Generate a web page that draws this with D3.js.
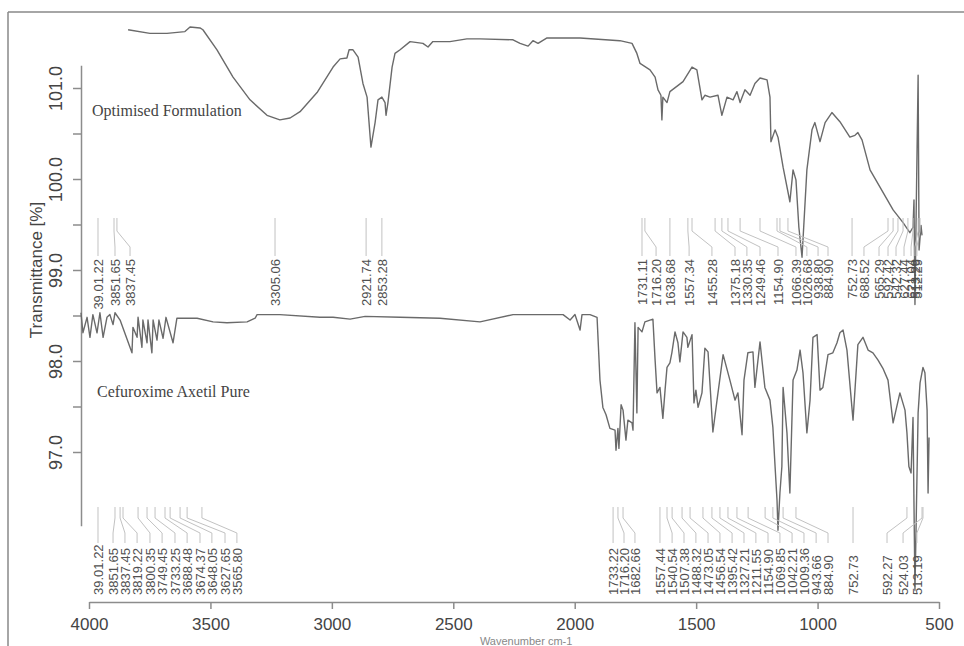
<!DOCTYPE html>
<html>
<head>
<script src="https://d3js.org/d3.v7.min.js"></script>
<style>
  body { margin: 0; background: #fff; font-family: "Liberation Sans", Arial, sans-serif; }
  .spec { fill: none; stroke: #6a6a6a; stroke-width: 1.4px; stroke-linejoin: round; }
  .lead { fill: none; stroke: #c2c2c2; stroke-width: 1px; }
  .peak { font-size: 13px; fill: #505050; }
  .axis text { font-size: 17px; fill: #444; font-family: "Liberation Sans", Arial, sans-serif; }
  .axis .domain, .axis .tick line { stroke: #8c8c8c; stroke-width: 1.5px; }
  .name { font-family: "Liberation Serif", "Times New Roman", serif; font-size: 16px; fill: #444; }
  .frame { stroke: #888; stroke-width: 1.5px; }
</style>
</head>
<body>
<svg width="964" height="646"></svg>
<script>
// Optimised Formulation spectrum
const formWn = [3839,3749,3679,3605,3584,3543,3531,3473,3407,3337,3267,3214,3172,3131,3061,2995,2966,2938,2929,2913,2892,2872,2855,2839,2822,2810,2794,2781,2777,2769,2752,2740,2719,2678,2625,2604,2584,2514,2444,2390,2254,2225,2192,2172,2151,2114,1978,1814,1764,1744,1731,1690,1669,1657,1645,1641,1637,1620,1608,1554,1517,1497,1476,1464,1443,1410,1394,1373,1348,1332,1319,1299,1278,1258,1237,1208,1196,1192,1175,1163,1142,1114,1101,1089,1077,1064,1044,1023,1011,990,969,941,908,867,846,834,817,784,743,689,648,620,607,603,599,595,586,582,574,570];
const formT = [101.64,101.60,101.60,101.62,101.67,101.66,101.64,101.42,101.12,100.87,100.70,100.65,100.67,100.74,100.95,101.23,101.32,101.33,101.42,101.42,101.34,101.05,100.90,100.35,100.62,100.87,100.90,100.84,100.70,100.84,101.23,101.38,101.42,101.51,101.49,101.45,101.51,101.51,101.54,101.54,101.53,101.49,101.46,101.52,101.49,101.55,101.55,101.52,101.49,101.38,101.27,101.20,101.12,100.98,100.92,100.65,100.90,100.84,100.96,101.07,101.23,101.20,100.87,100.92,100.90,100.92,100.70,100.90,100.87,100.96,100.84,100.98,100.92,101.05,101.11,101.09,100.90,100.41,100.54,100.46,100.13,99.75,100.10,99.99,99.47,99.14,100.10,100.54,100.62,100.41,100.62,100.73,100.63,100.46,100.48,100.51,100.43,100.10,99.91,99.66,99.52,99.41,99.47,99.77,98.62,99.44,101.14,99.22,99.49,99.38];

// Cefuroxime Axetil Pure spectrum
const pureWn = [4033,4025,4008,3996,3984,3967,3955,3942,3926,3914,3901,3893,3872,3823,3819,3802,3798,3782,3778,3761,3757,3741,3736,3720,3712,3695,3683,3654,3638,3555,3489,3432,3349,3316,3308,3214,3049,2995,2925,2863,2719,2555,2390,2254,2048,2019,1999,1978,1970,1937,1908,1896,1884,1871,1855,1834,1830,1822,1818,1809,1801,1789,1781,1764,1760,1752,1744,1739,1723,1711,1678,1669,1661,1649,1637,1628,1620,1608,1600,1587,1575,1567,1554,1538,1534,1517,1509,1501,1492,1476,1464,1451,1431,1414,1389,1361,1340,1328,1311,1303,1287,1266,1258,1237,1217,1196,1184,1175,1167,1163,1155,1147,1142,1126,1114,1101,1085,1072,1060,1044,1031,1019,1002,990,978,957,937,920,908,895,879,854,834,813,792,772,751,731,710,689,661,640,632,624,615,607,599,586,578,566,558,549,545,541];
const pureT = [98.53,98.31,98.48,98.26,98.51,98.31,98.53,98.26,98.48,98.51,98.40,98.53,98.45,98.09,98.37,98.26,98.48,98.15,98.45,98.20,98.45,98.09,98.45,98.23,98.45,98.25,98.48,98.20,98.47,98.47,98.43,98.42,98.43,98.47,98.51,98.51,98.48,98.48,98.46,98.49,98.48,98.47,98.43,98.51,98.51,98.45,98.51,98.34,98.51,98.51,98.48,97.79,97.49,97.41,97.26,97.24,97.02,97.26,97.04,97.52,97.46,97.13,97.35,97.32,97.24,98.42,97.43,98.37,98.32,98.43,98.46,98.01,97.65,97.71,97.37,97.68,97.93,97.98,98.09,98.32,98.20,97.99,98.32,98.26,98.15,98.29,97.54,97.68,97.49,97.65,98.14,98.10,97.22,97.57,98.07,97.79,97.57,97.65,97.19,97.79,98.09,98.10,97.71,98.21,97.71,97.57,97.27,96.84,96.47,96.14,96.55,96.84,97.71,97.21,96.55,97.79,97.90,98.12,97.87,97.21,97.57,98.26,98.29,97.68,97.71,98.07,98.09,98.20,98.31,98.34,98.12,97.35,98.18,98.26,98.12,98.09,98.01,97.92,97.79,97.32,97.65,97.46,97.21,96.84,96.77,97.38,95.48,97.43,97.76,97.93,97.87,97.46,96.55,97.16];

// peak annotations: label, wavenumber where leader starts, wavenumber slot of label
const formPeakText = ["39.01.22","3851.65","3837.45","3305.06","2921.74","2853.28","1731.11","1716.20","1638.68","1557.34","1455.28","1375.18","1330.35","1249.46","1154.90","1066.39","1026.68","938.80","884.90","752.73","688.52","565.29","592.42","542.32","627.44","621.04","513.29","512.29"];
const formPeakAt = [3963,3897,3885,3234,2859,2794,1723,1711,1608,1534,1517,1422,1394,1369,1319,1237,1167,1155,1122,858,710,689,669,648,628,607,586,578];
const formPeakSlot = [3963,3893,3831,3234,2859,2794,1723,1665,1608,1529,1435,1340,1291,1237,1163,1089,1044,998,957,858,809,747,710,677,644,615,599,591];

const purePeakText = ["39.01.22","3851.65","3837.45","3819.22","3800.35","3749.45","3733.25","3688.48","3674.37","3648.05","3627.65","3565.80","1733.22","1716.20","1682.66","1557.44","1540.54","1507.38","1488.32","1473.05","1456.54","1395.42","1327.21","1211.55","1154.90","1069.85","1042.21","1009.36","943.66","884.90","752.73","592.27","524.03","513.19"];
const purePeakAt = [3963,3893,3872,3860,3798,3761,3728,3687,3666,3625,3596,3535,1842,1822,1801,1649,1620,1599,1558,1525,1472,1435,1402,1369,1332,1286,1216,1184,1142,1089,854,632,570,566];
const purePeakSlot = [3963,3901,3852,3802,3749,3699,3646,3596,3543,3494,3440,3391,1842,1797,1752,1649,1599,1550,1501,1451,1402,1352,1303,1254,1204,1155,1105,1056,1006,957,854,714,648,591];

const xTicks = [4000, 3500, 3000, 2500, 2000, 1500, 1000, 500];
const yTicks = [97, 97.5, 98, 98.5, 99, 99.5, 100, 100.5, 101];

const svg = d3.select("svg");

const x = d3.scaleLinear().domain([4000, 500]).range([89, 939]);
const y = d3.scaleLinear().domain([101, 97]).range([88, 452]);
const yAxisScale = y.copy().domain([101.25, 96.19]).range([y(101.25), y(96.19)]);

// frame
svg.append("line").attr("class", "frame").attr("x1", 8).attr("y1", 12).attr("x2", 8).attr("y2", 646);
svg.append("line").attr("class", "frame").attr("x1", 8).attr("y1", 12).attr("x2", 964).attr("y2", 12);

// axes
const gx = svg.append("g").attr("class", "axis")
  .attr("transform", "translate(0,602)")
  .call(d3.axisBottom(x).tickValues(xTicks).tickSize(7).tickSizeOuter(0).tickPadding(9).tickFormat(d3.format("d")));

const gy = svg.append("g").attr("class", "axis")
  .attr("transform", "translate(81,0)")
  .call(d3.axisLeft(yAxisScale).tickValues(yTicks).tickSize(8).tickSizeOuter(0)
    .tickFormat(d => Number.isInteger(d) ? d.toFixed(1) : ""));
gy.selectAll(".tick text")
  .attr("transform", "rotate(-90)")
  .attr("x", 0).attr("y", -19).attr("dy", 0)
  .style("text-anchor", "middle")
  .style("font-size", "18px");

svg.append("text")
  .attr("transform", "translate(42,270) rotate(-90)")
  .style("text-anchor", "middle")
  .style("font-size", "17px").style("fill", "#444")
  .text("Transmittance [%]");

svg.append("text")
  .attr("x", x(2200)).attr("y", 645)
  .style("text-anchor", "middle")
  .style("font-size", "11px").style("fill", "#888")
  .text("Wavenumber cm-1");

// spectra
const line = d3.line().x(d => x(d[0])).y(d => y(d[1]));
svg.append("path").attr("class", "spec").attr("d", line(d3.zip(formWn, formT)));
svg.append("path").attr("class", "spec").attr("d", line(d3.zip(pureWn, pureT)));

svg.append("text").attr("class", "name").attr("x", 92).attr("y", 116).text("Optimised Formulation");
svg.append("text").attr("class", "name").attr("x", 97).attr("y", 397).text("Cefuroxime Axetil Pure");

// peak labels
function peaks(text, at, slot, top, bend1, bend2, bottom, textY, anchor) {
  const rows = text.map((t, i) => ({ t, a: x(at[i]), s: x(slot[i]) }));
  svg.append("g").selectAll("path").data(rows).join("path")
    .attr("class", "lead")
    .attr("d", d => `M${d.a},${top}V${bend1}L${d.s},${bend2}V${bottom}`);
  svg.append("g").selectAll("text").data(rows).join("text")
    .attr("class", "peak")
    .attr("transform", d => `translate(${d.s},${textY}) rotate(-90)`)
    .attr("dy", "0.36em")
    .style("text-anchor", anchor)
    .text(d => d.t);
}
peaks(formPeakText, formPeakAt, formPeakSlot, 218, 231, 247, 256, 259, "end");
peaks(purePeakText, purePeakAt, purePeakSlot, 507, 518, 533, 543, 595, "start");
</script>
</body>
</html>
